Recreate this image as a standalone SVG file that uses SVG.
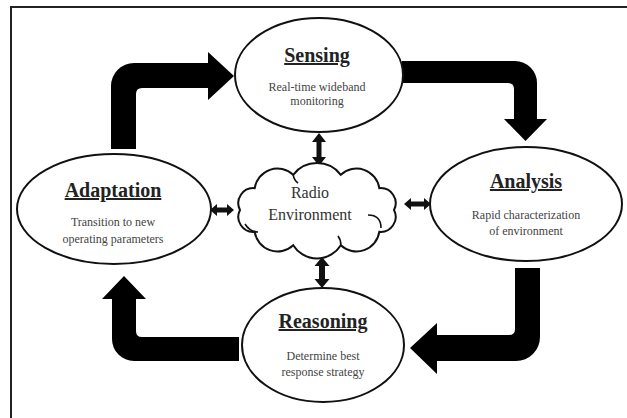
<svg xmlns="http://www.w3.org/2000/svg" width="627" height="418" viewBox="0 0 627 418">
<style>
.node{fill:#fff;stroke:#111;stroke-width:2}
.title{font-family:"Liberation Serif","Times New Roman",serif;font-size:20px;font-weight:bold;fill:#222;text-anchor:middle;text-decoration:underline}
.sub{font-family:"Liberation Serif","Times New Roman",serif;font-size:12px;fill:#444;text-anchor:middle}
.cloudtxt{font-family:"Liberation Serif","Times New Roman",serif;font-size:16px;fill:#333;text-anchor:middle}
.big{fill:#000}
.dbl{fill:#111}
.curl{fill:none;stroke:#111;stroke-width:1.6}
</style>
<rect x="0" y="0" width="627" height="418" fill="#fff"/>
<path d="M11,418 V7 H627" fill="none" stroke="#222" stroke-width="2"/>

<g id="connectors">
  <path class="big" d="M111,149 V86 A23,23 0 0 1 134,63 H208 V52 L234,76 L208,100 V88 H142 Q136,88 136,94 V149 Z"/>
  <path class="big" d="M402,61 H515 A22,22 0 0 1 537,83 V119 H547 L525.5,141 L504,119 H514 V89 Q514,83 508,83 H402 Z"/>
  <path class="big" d="M515,268 H540 V337 A24,24 0 0 1 516,361 H437 V374 L410,348 L437,323 V335 H509 Q515,335 515,329 Z"/>
  <path class="big" d="M239,337 V361 H134 A22,22 0 0 1 112,339 V299 H102 L124,276 L146,299 H136 V331 Q136,337 142,337 Z"/>
  <polygon class="dbl" points="319,133 326,142 321.5,142 321.5,157 326,157 319,166 312,157 316.5,157 316.5,142 312,142"/>
  <polygon class="dbl" points="322,257 329.5,266 325,266 325,279 329.5,279 322,288 314.5,279 319,279 319,266 314.5,266"/>
  <polygon class="dbl" points="210,210 217,204 217,207.5 227,207.5 227,204 234,210 227,216 227,212.5 217,212.5 217,216"/>
  <polygon class="dbl" points="404,204 411,198 411,201.5 424,201.5 424,198 431,204 424,210 424,206.5 411,206.5 411,210"/>
</g>

<g id="sensing">
  <ellipse class="node" cx="319" cy="75" rx="84" ry="57"/>
  <text class="title" x="317" y="62">Sensing</text>
  <text class="sub" x="317" y="91">Real-time wideband</text>
  <text class="sub" x="317" y="105">monitoring</text>
</g>

<g id="adaptation">
  <ellipse class="node" cx="114" cy="209" rx="97" ry="55"/>
  <text class="title" x="113" y="197">Adaptation</text>
  <text class="sub" x="113" y="226">Transition to new</text>
  <text class="sub" x="113" y="243">operating parameters</text>
</g>

<g id="analysis">
  <ellipse class="node" cx="526" cy="204" rx="96" ry="57"/>
  <text class="title" x="526" y="188">Analysis</text>
  <text class="sub" x="526" y="219">Rapid characterization</text>
  <text class="sub" x="526" y="235">of environment</text>
</g>

<g id="reasoning">
  <ellipse class="node" cx="323" cy="345" rx="81" ry="57"/>
  <text class="title" x="323" y="328">Reasoning</text>
  <text class="sub" x="323" y="360">Determine best</text>
  <text class="sub" x="323" y="376">response strategy</text>
</g>

<g id="radio-environment">
  <path class="node" d="M240,210 A15,15 0 0 1 254.7,188.2 A23,23 0 0 1 293.2,174.8 A30,30 0 0 1 340.8,174.8 A23,23 0 0 1 379.3,188.2 A15,15 0 0 1 394,210 A15,15 0 0 1 379.3,231.8 A23,23 0 0 1 340.8,245.2 A28,28 0 0 1 293.2,245.2 A23,23 0 0 1 254.7,231.8 A15,15 0 0 1 240,210 Z"/>
  <path class="curl" d="M368,215 Q381,215 381,228"/>
  <path class="curl" d="M245,224 Q250,232 258,232"/>
  <path class="curl" d="M293.2,174.8 Q294,180 298,183"/>
  <path class="curl" d="M340.8,245.2 Q341,240 338,236"/>
  <text class="cloudtxt" x="310" y="198">Radio</text>
  <text class="cloudtxt" x="310" y="220">Environment</text>
</g>
</svg>
